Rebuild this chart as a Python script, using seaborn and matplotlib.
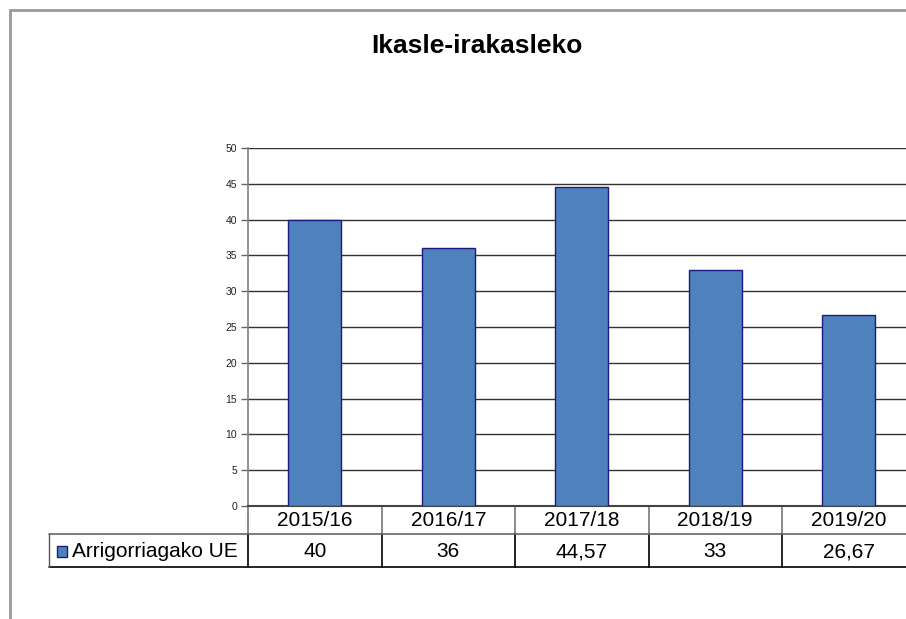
import matplotlib
matplotlib.use("Agg")
import matplotlib.pyplot as plt
import seaborn as sns
import pandas as pd
from matplotlib.lines import Line2D
from matplotlib.patches import Rectangle

# ---- data ----
title = "Ikasle-irakasleko"
series_name = "Arrigorriagako UE"
categories = ["2015/16", "2016/17", "2017/18", "2018/19", "2019/20"]
values = [40, 36, 44.57, 33, 26.67]
yticks = [0, 5, 10, 15, 20, 25, 30, 35, 40, 45, 50]

df = pd.DataFrame({"year": categories, "value": values})

sns.set_theme(style="white")
plt.rcParams['font.family'] = ['Liberation Sans', 'DejaVu Sans']

W, H = 906, 619
fig = plt.figure(figsize=(W / 100, H / 100), dpi=100)
fig.patch.set_facecolor("white")

# axes in pixel layout
ax_left, ax_top, ax_bottom = 248, 148, 506
cat_w = 133.5
ax_w = cat_w * len(categories)
ax = fig.add_axes([ax_left / W, 1 - ax_bottom / H, ax_w / W, (ax_bottom - ax_top) / H])
ax.set_facecolor("white")

bar_color = "#4F81BD"
edge_color = "#1A1A80"
sns.barplot(data=df, x="year", y="value", color=bar_color, width=0.4,
            edgecolor=edge_color, linewidth=1.0, saturation=1, ax=ax, zorder=3)

ax.set_xlim(-0.5, len(categories) - 0.5)
ax.set_ylim(0, 50)
ax.set_yticks(yticks)
ax.set_yticklabels([str(t) for t in yticks], fontsize=7.5, color="#222222")
ax.set_xticks([])
ax.set_xlabel("")
ax.set_ylabel("")
ax.yaxis.grid(True, color="#333333", linewidth=1.0, zorder=0)
ax.set_axisbelow(True)
ax.tick_params(axis="y", length=5, width=1, color="#666666", pad=3, left=True)
for s in ["top", "right"]:
    ax.spines[s].set_visible(False)
ax.spines["left"].set_color("#808080")
ax.spines["left"].set_linewidth(1.2)
ax.spines["bottom"].set_color("#444444")
ax.spines["bottom"].set_linewidth(1.5)

# ---- data table below the axes ----
ph = ax_bottom - ax_top
r1 = -28 / ph   # bottom of header row
r2 = -61 / ph   # bottom of value row
leg_left = (49 - ax_left) / ax_w  # axes fraction
trans = ax.get_xaxis_transform()

# vertical lines at category boundaries
for i in range(len(categories) + 1):
    xb = i - 0.5
    ax.add_line(Line2D([xb, xb], [0, r1], transform=trans, color="#777777",
                       lw=1.2, clip_on=False))
    ax.add_line(Line2D([xb, xb], [r1, r2], transform=trans, color="#000000",
                       lw=1.2, clip_on=False))
# horizontal lines
ax.add_line(Line2D([leg_left, 1], [r1, r1], transform=ax.transAxes, color="#666666",
                   lw=1.2, clip_on=False))
ax.add_line(Line2D([leg_left, 1], [r2, r2], transform=ax.transAxes, color="#000000",
                   lw=1.2, clip_on=False))
ax.add_line(Line2D([leg_left, leg_left], [r1, r2], transform=ax.transAxes, color="#555555",
                   lw=1.0, clip_on=False))

for i, (cat, v) in enumerate(zip(categories, values)):
    ax.text(i, r1 / 2 - 1 / ph, cat, transform=trans, ha="center", va="center",
            fontsize=15, color="black", clip_on=False)
    lab = f"{v:g}".replace(".", ",")
    ax.text(i, (r1 + r2) / 2 - 1 / ph, lab, transform=trans, ha="center", va="center",
            fontsize=15, color="black", clip_on=False)

# legend key + series name
ax.add_patch(Rectangle((leg_left + 8 / ax_w, (r1 + r2) / 2 - 6 / ph), 10 / ax_w, 11 / ph,
                       transform=ax.transAxes, facecolor=bar_color, edgecolor=edge_color,
                       lw=1.0, clip_on=False))
ax.text(leg_left + 23 / ax_w, (r1 + r2) / 2 - 1 / ph, series_name, transform=ax.transAxes,
        ha="left", va="center", fontsize=15, color="black", clip_on=False)

# title
fig.text(477 / W, 1 - 53 / H, title, ha="center", va="baseline", fontsize=19,
         fontweight="bold", color="black")

# outer chart frame (partially visible)
fig.add_artist(Line2D([10 / W, 1], [1 - 10 / H, 1 - 10 / H], transform=fig.transFigure,
                      color="#999999", lw=2))
fig.add_artist(Line2D([10 / W, 10 / W], [0, 1 - 10 / H], transform=fig.transFigure,
                      color="#999999", lw=2))

fig.savefig("out.png", dpi=100, facecolor="white")
